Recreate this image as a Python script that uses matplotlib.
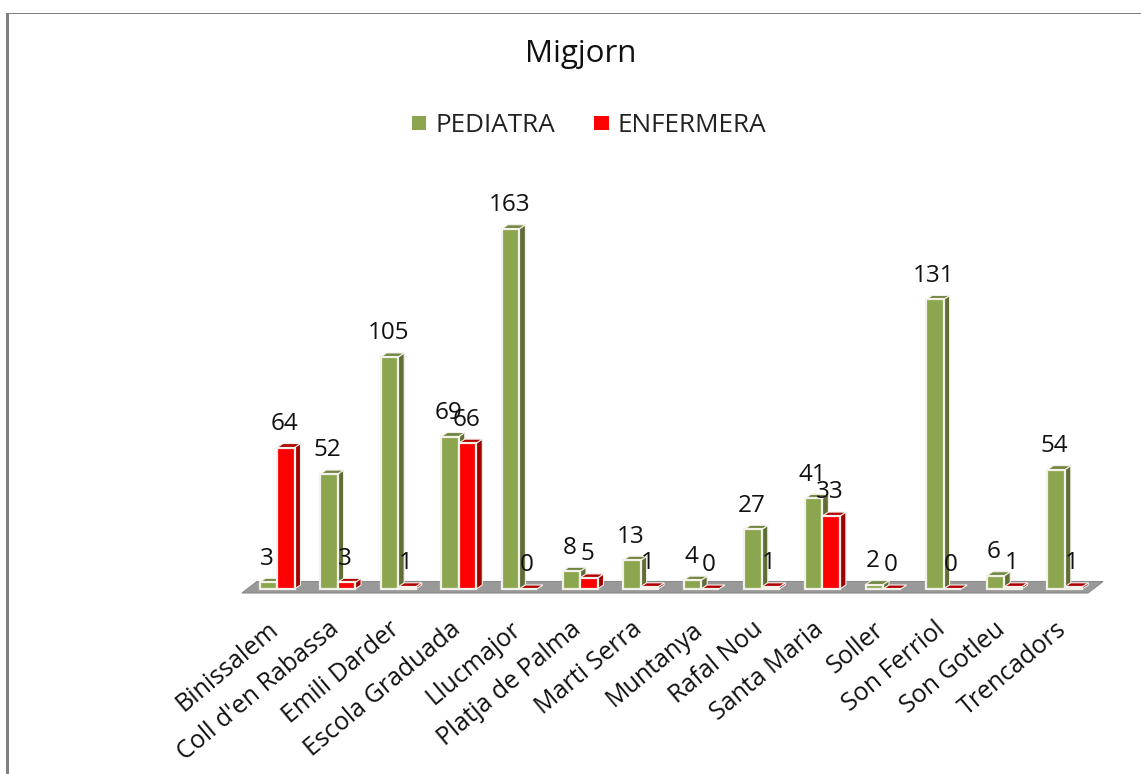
import matplotlib
matplotlib.use('Agg')
from matplotlib import pyplot as plt
from matplotlib.patches import Polygon, Patch, Rectangle

plt.rcParams['font.family'] = ['Open Sans', 'DejaVu Sans']

centros = ['Binissalem', "Coll d'en Rabassa", 'Emili Darder', 'Escola Graduada', 'Llucmajor',
           'Platja de Palma', 'Marti Serra', 'Muntanya', 'Rafal Nou', 'Santa Maria',
           'Soller', 'Son Ferriol', 'Son Gotleu', 'Trencadors']
pediatra = [3, 52, 105, 69, 163, 8, 13, 4, 27, 41, 2, 131, 6, 54]
enfermera = [64, 3, 1, 66, 0, 5, 1, 0, 1, 33, 0, 0, 1, 1]

W, H = 1141, 774
fig = plt.figure(figsize=(W / 100, H / 100), dpi=100)
# baseline at y=589px, 2.21 px per unit, 60.6 px per group
ax = fig.add_axes([242 / W, (H - 589) / H, 861 / W, 398 / H])
ax.set_xlim((242 - 277) / 60.6, (1103 - 277) / 60.6)
ax.set_ylim(0, 398 / 2.21)
ax.axis('off')

bw = 17.5 / 60.6
dx = 6 / 60.6   # fake 3d depth
dy = 4 / 2.21

# floor
floor_x0, floor_x1 = ax.get_xlim()
fy = 4 / 2.21
floor_dx = 15 / 60.6
floor_top = 7.5 / 2.21
ax.add_patch(Polygon([(floor_x0, -fy), (floor_x1 - floor_dx, -fy), (floor_x1, floor_top),
                      (floor_x0 + floor_dx, floor_top)],
                     closed=True, fc='#999999', ec='#8a8a8a', lw=0.8, clip_on=False, zorder=1))


def bar3d(x, v, col, dark, top, z):
    ax.bar(x, v, bw, align='edge', color=col, edgecolor='#f4f0ea', linewidth=1.6, zorder=z + 0.2, clip_on=False)
    ax.add_patch(Polygon([(x + bw, 0), (x + bw + dx, dy), (x + bw + dx, v + dy), (x + bw, v)],
                         closed=True, fc=dark, ec='#f4f0ea', lw=0.8, zorder=z, clip_on=False))
    ax.add_patch(Polygon([(x, v), (x + dx, v + dy), (x + bw + dx, v + dy), (x + bw, v)],
                         closed=True, fc=top, ec='#f4f0ea', lw=0.8, zorder=z + 0.1, clip_on=False))


for i in range(len(centros)):
    bar3d(i - bw, pediatra[i], '#8ba64f', '#5f6e35', '#6f8540', 2 + i)
    bar3d(i, enfermera[i], '#ff0000', '#a00000', '#b00000', 2.5 + i)
    ax.annotate(str(pediatra[i]), (i - bw / 2, pediatra[i]), xytext=(-1, 17), textcoords='offset points',
                ha='center', va='center', fontsize=17.5, color='#111111', zorder=50, annotation_clip=False)
    ax.annotate(str(enfermera[i]), (i + bw / 2, enfermera[i]), xytext=(-1, 17), textcoords='offset points',
                ha='center', va='center', fontsize=17.5, color='#111111', zorder=50, annotation_clip=False)
    ax.annotate(centros[i], (i, 0), xytext=(-7, -20), textcoords='offset points', rotation=40,
                rotation_mode='anchor', ha='right', va='top', fontsize=18, color='#111111',
                annotation_clip=False)

fig.text(581 / W, 1 - 54 / H, 'Migjorn', ha='center', va='center', fontsize=22.5, color='#111111')
fig.legend(handles=[Patch(fc='#8ba64f', label='PEDIATRA'), Patch(fc='#ff0000', label='ENFERMERA')],
           loc='center', bbox_to_anchor=(589 / W, 1 - 126 / H), ncol=2, frameon=False, fontsize=18.8,
           handlelength=0.55, handleheight=0.45, handletextpad=0.35, columnspacing=1.5, labelcolor='#222222')

# chart border, only left and top show
fig.add_artist(Rectangle((6 / W, 0), 3 / W, 1 - 13 / H, transform=fig.transFigure, fc='#808080', ec='none'))
fig.add_artist(Rectangle((6 / W, 1 - 14 / H), 1 - 6 / W, 1.2 / H, transform=fig.transFigure, fc='#808080', ec='none'))

fig.savefig('out.png', dpi=100)
